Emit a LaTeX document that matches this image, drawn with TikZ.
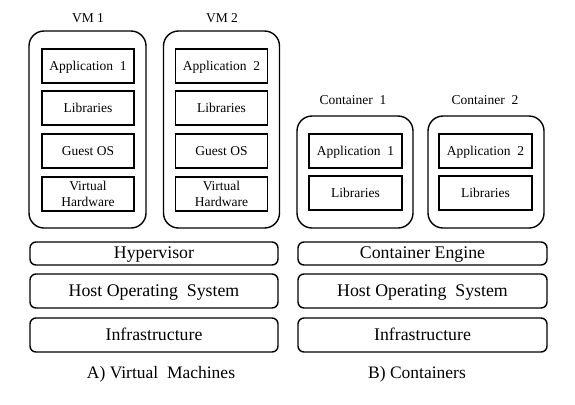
\documentclass[tikz,border=0pt]{standalone}
\usepackage{fontspec}
\setmainfont{Liberation Serif}
\begin{document}
\begin{tikzpicture}[x=1bp,y=-1bp,
  outerbox/.style={draw, line width=1.4bp, rounded corners=15bp, inner sep=0pt},
  innerbox/.style={draw, line width=1.4bp, inner sep=0pt, align=center, font=\fontsize{13.5bp}{15.5bp}\selectfont},
  bar/.style={draw, line width=1.4bp, rounded corners=6bp, inner sep=0pt, minimum width=248bp, text depth=1bp, font=\fontsize{17.8bp}{20bp}\selectfont},
  lbl/.style={inner sep=0pt, font=\fontsize{13.5bp}{15.5bp}\selectfont},
  captext/.style={inner sep=0pt, font=\fontsize{17.5bp}{20bp}\selectfont}]
\useasboundingbox (0,0) rectangle (575,404);
% VMs
\node[outerbox, minimum width=117bp, minimum height=197bp] (vm1) at (87.5,129.5) {};
\node[outerbox, minimum width=116bp, minimum height=197bp] (vm2) at (221.5,129.5) {};
\node[lbl] (vm1l) at (88,18) {VM 1};
\node[lbl] (vm2l) at (222,18) {VM 2};
\foreach \n/\cx in {1/88, 2/221.5}{
  \node[innerbox, minimum width=92bp, minimum height=34bp, text depth=1bp] (vm\n app) at (\cx,66) {Application~ \n};
  \node[innerbox, minimum width=92bp, minimum height=34bp] (vm\n lib) at (\cx,108) {Libraries};
  \node[innerbox, minimum width=92bp, minimum height=34bp] (vm\n os) at (\cx,151) {Guest OS};
  \node[innerbox, minimum width=92bp, minimum height=34bp] (vm\n hw) at (\cx,194) {Virtual\\Hardware};
}
% Containers
\node[outerbox, minimum width=116bp, minimum height=112bp] (c1) at (355,172) {};
\node[outerbox, minimum width=116bp, minimum height=112bp] (c2) at (486,172) {};
\node[lbl] (c1l) at (353,100) {Container~ 1};
\node[lbl] (c2l) at (485,100) {Container~ 2};
\foreach \n/\cx in {1/355.5, 2/485.5}{
  \node[innerbox, minimum width=93bp, minimum height=34bp, text depth=1bp] (c\n app) at (\cx,151) {Application~ \n};
  \node[innerbox, minimum width=93bp, minimum height=34bp] (c\n lib) at (\cx,193) {Libraries};
}
% Bars
\node[bar, minimum height=23bp] (hyp) at (154,253.5) {Hypervisor};
\node[bar, minimum height=34bp] (hosta) at (154,291) {Host Operating~ System};
\node[bar, minimum height=34bp] (infa) at (154,335) {Infrastructure};
\node[bar, minimum width=249bp, minimum height=23bp] (eng) at (422.5,253.5) {Container Engine};
\node[bar, minimum width=249bp, minimum height=34bp] (hostb) at (422.5,291) {Host Operating~ System};
\node[bar, minimum width=249bp, minimum height=34bp] (infb) at (422.5,335) {Infrastructure};
% Captions
\node[captext] (capa) at (161,374) {A) Virtual~ Machines};
\node[captext] (capb) at (417,374) {B) Containers};
\end{tikzpicture}
\end{document}
